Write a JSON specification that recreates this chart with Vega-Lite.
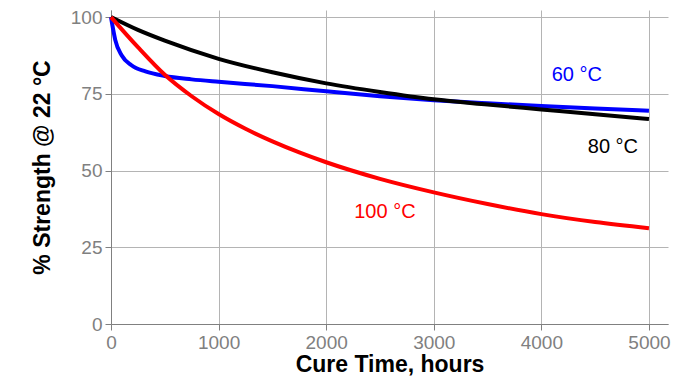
{
  "$schema": "https://vega.github.io/schema/vega-lite/v6.json",
  "autosize": "none",
  "width": 557,
  "height": 314,
  "padding": {"left": 111, "top": 10, "right": 20, "bottom": 61},
  "background": "white",
  "config": {
    "font": "Liberation Sans",
    "view": {"stroke": null},
    "axis": {
      "labelFont": "Liberation Sans",
      "labelFontSize": 19,
      "labelColor": "#808080",
      "titleFont": "Liberation Sans",
      "titleFontSize": 23,
      "titleFontWeight": "bold",
      "titleColor": "black",
      "domainColor": "#808080",
      "tickColor": "#808080",
      "gridColor": "#b4b4b4",
      "gridWidth": 1,
      "tickSize": 6,
      "labelPadding": 3,
      "labelFlush": false,
      "format": "d"
    }
  },
  "datasets": {
    "curves": [
      {"h": 0, "v": 100, "s": "60 °C"},
      {"h": 20, "v": 96, "s": "60 °C"},
      {"h": 40, "v": 92.5, "s": "60 °C"},
      {"h": 100, "v": 87.5, "s": "60 °C"},
      {"h": 190, "v": 84.3, "s": "60 °C"},
      {"h": 320, "v": 82.3, "s": "60 °C"},
      {"h": 500, "v": 80.8, "s": "60 °C"},
      {"h": 750, "v": 79.7, "s": "60 °C"},
      {"h": 1000, "v": 78.9, "s": "60 °C"},
      {"h": 1500, "v": 77.5, "s": "60 °C"},
      {"h": 2000, "v": 75.8, "s": "60 °C"},
      {"h": 2500, "v": 74.2, "s": "60 °C"},
      {"h": 3000, "v": 72.9, "s": "60 °C"},
      {"h": 3500, "v": 71.9, "s": "60 °C"},
      {"h": 4000, "v": 71.0, "s": "60 °C"},
      {"h": 4500, "v": 70.2, "s": "60 °C"},
      {"h": 5000, "v": 69.5, "s": "60 °C"},
      {"h": 0, "v": 100, "s": "80 °C"},
      {"h": 250, "v": 95.8, "s": "80 °C"},
      {"h": 500, "v": 92.3, "s": "80 °C"},
      {"h": 1000, "v": 86.4, "s": "80 °C"},
      {"h": 1500, "v": 82.0, "s": "80 °C"},
      {"h": 2000, "v": 78.4, "s": "80 °C"},
      {"h": 2500, "v": 75.6, "s": "80 °C"},
      {"h": 3000, "v": 73.2, "s": "80 °C"},
      {"h": 3500, "v": 71.5, "s": "80 °C"},
      {"h": 4000, "v": 69.9, "s": "80 °C"},
      {"h": 4500, "v": 68.3, "s": "80 °C"},
      {"h": 5000, "v": 66.8, "s": "80 °C"},
      {"h": 0, "v": 100, "s": "100 °C"},
      {"h": 250, "v": 90.2, "s": "100 °C"},
      {"h": 500, "v": 81.2, "s": "100 °C"},
      {"h": 750, "v": 74.2, "s": "100 °C"},
      {"h": 1000, "v": 68.4, "s": "100 °C"},
      {"h": 1250, "v": 63.6, "s": "100 °C"},
      {"h": 1500, "v": 59.5, "s": "100 °C"},
      {"h": 1750, "v": 55.9, "s": "100 °C"},
      {"h": 2000, "v": 52.7, "s": "100 °C"},
      {"h": 2500, "v": 47.3, "s": "100 °C"},
      {"h": 3000, "v": 42.9, "s": "100 °C"},
      {"h": 3500, "v": 39.1, "s": "100 °C"},
      {"h": 4000, "v": 35.8, "s": "100 °C"},
      {"h": 4500, "v": 33.2, "s": "100 °C"},
      {"h": 5000, "v": 31.2, "s": "100 °C"}
    ],
    "labels": [
      {"h": 4330, "v": 81.1, "s": "60 °C"},
      {"h": 4665, "v": 57.7, "s": "80 °C"},
      {"h": 2546, "v": 36.5, "s": "100 °C"}
    ]
  },
  "layer": [
    {
      "data": {"name": "curves"},
      "mark": {"type": "line", "strokeWidth": 4, "interpolate": "monotone"},
      "encoding": {
        "x": {
          "field": "h", "type": "quantitative",
          "scale": {"domain": [0, 5177], "nice": false, "zero": false},
          "axis": {"values": [0, 1000, 2000, 3000, 4000, 5000], "title": "Cure Time, hours", "titlePadding": 1}
        },
        "y": {
          "field": "v", "type": "quantitative",
          "scale": {"domain": [0, 102.3], "nice": false},
          "axis": {"values": [0, 25, 50, 75, 100], "title": "% Strength @ 22 °C", "titlePadding": 16}
        },
        "color": {
          "field": "s", "type": "nominal",
          "scale": {"domain": ["60 °C", "80 °C", "100 °C"], "range": ["#0000ff", "#000000", "#ff0000"]},
          "legend": null
        },
        "detail": {"field": "s"}
      }
    },
    {
      "data": {"name": "labels"},
      "mark": {"type": "text", "fontSize": 20, "font": "Liberation Sans"},
      "encoding": {
        "x": {"field": "h", "type": "quantitative"},
        "y": {"field": "v", "type": "quantitative"},
        "text": {"field": "s"},
        "color": {
          "field": "s", "type": "nominal",
          "scale": {"domain": ["60 °C", "80 °C", "100 °C"], "range": ["#0000ff", "#000000", "#ff0000"]},
          "legend": null
        }
      }
    }
  ]
}
